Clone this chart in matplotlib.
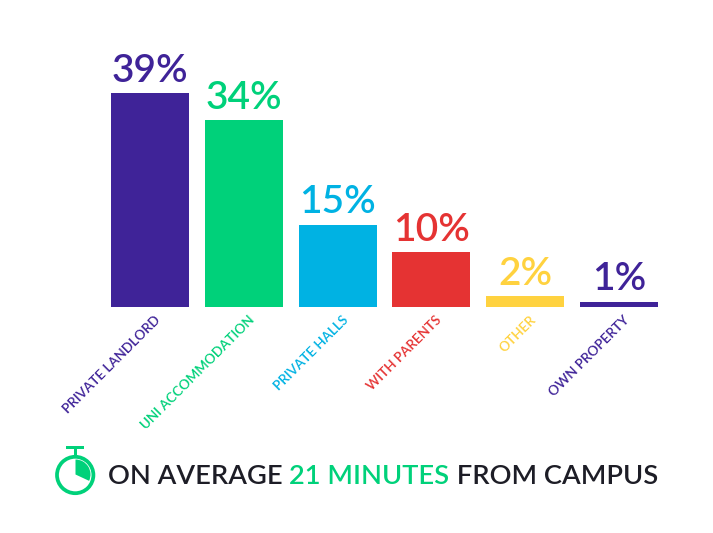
import matplotlib
matplotlib.use('Agg')
import matplotlib.pyplot as plt
from matplotlib.patches import Circle, Wedge, Rectangle

categories = ['PRIVATE LANDLORD', 'UNI ACCOMMODATION', 'PRIVATE HALLS', 'WITH PARENTS', 'OTHER', 'OWN PROPERTY']
values = [39, 34, 15, 10, 2, 1]
colors = ['#3F2398', '#00D17A', '#00B2E3', '#E53333', '#FFD23F', '#3F2398']
footer_parts = [('ON AVERAGE ', '#1D1D26'), ('21 MINUTES', '#00D17A'), (' FROM CAMPUS', '#1D1D26')]

W, H = 713, 533
plt.rcParams['font.family'] = 'Lato'

def main():
    fig = plt.figure(figsize=(W / 100, H / 100), dpi=100)

    # bar axes, placed so the baseline sits at y=307px
    left, right = 103.1, 665.9
    ax = fig.add_axes([left / W, (H - 307) / H, (right - left) / W, 5.49 * 40 / H])
    ax.bar(range(len(values)), values, width=0.83, color=colors)
    ax.set_xlim(-0.5, 5.5)
    ax.set_ylim(0, 40)
    ax.axis('off')

    for i, (val, cat, col) in enumerate(zip(values, categories, colors)):
        ax.annotate(f'{val}%', (i, val), xytext=(0, 3), textcoords='offset points',
                    ha='center', va='bottom', fontsize=28, color=col, fontweight='semibold')
        ax.annotate(cat, (i, 0), xytext=(3, -4.5), textcoords='offset points',
                    ha='right', va='top', rotation=45, rotation_mode='anchor',
                    fontsize=9.7, color=col, fontweight='semibold')

    # overlay in pixel coords for the footer
    over = fig.add_axes([0, 0, 1, 1])
    over.set_xlim(0, W)
    over.set_ylim(H, 0)
    over.axis('off')
    over.patch.set_alpha(0)

    green = '#00D17A'
    over.add_patch(Circle((75.2, 475), 18.2, fill=False, ec=green, lw=2.7))
    over.add_patch(Wedge((75.5, 474.5), 15, -90, 25, fc=green, ec='none'))
    over.add_patch(Rectangle((74, 448), 3, 8, fc=green, ec='none'))
    over.add_patch(Rectangle((66, 445.8), 17.5, 3.4, fc=green, ec='none'))

    renderer = fig.canvas.get_renderer()
    x = 108
    for txt, col in footer_parts:
        t = over.text(x, 474, txt.replace(' ', '\u00a0'), fontsize=19.65, color=col, fontweight='semibold',
                      ha='left', va='center_baseline')
        x = t.get_window_extent(renderer).x1

    fig.savefig('out.png', dpi=100)

if __name__ == '__main__':
    main()
